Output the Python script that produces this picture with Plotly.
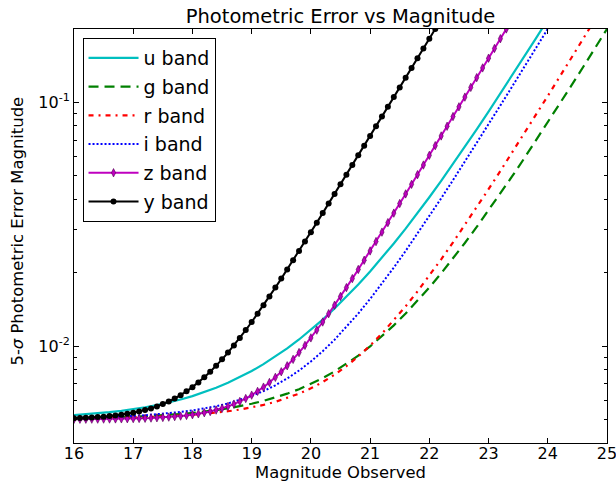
import plotly.graph_objects as go

# Magnitude grids (x data)
mag_fine = [round(16.0 + 0.1 * i, 1) for i in range(75)]    # 16.0 .. 23.4
mag_coarse = [round(16.0 + 0.2 * i, 1) for i in range(46)]  # 16.0 .. 25.0

band_names = ["u band", "g band", "r band", "i band", "z band", "y band"]

# 5-sigma photometric error
err_u = [0.005205, 0.005246, 0.005295, 0.005354, 0.005423, 0.005507, 0.005606, 0.005724,
         0.005865, 0.006032, 0.006229, 0.006462, 0.006738, 0.007063, 0.007446, 0.007896,
         0.008425, 0.009047, 0.009777, 0.010637, 0.011649, 0.012842, 0.014250, 0.015917,
         0.017893, 0.020239, 0.023033, 0.026363, 0.030340, 0.035095, 0.040789, 0.047612,
         0.055795, 0.065616, 0.077407, 0.091568, 0.108582, 0.129027, 0.153597, 0.183129,
         0.218628]

err_g = [0.005050, 0.005060, 0.005073, 0.005087, 0.005105, 0.005126, 0.005152, 0.005182,
         0.005219, 0.005263, 0.005317, 0.005380, 0.005457, 0.005549, 0.005660, 0.005794,
         0.005953, 0.006145, 0.006376, 0.006653, 0.006986, 0.007385, 0.007864, 0.008440,
         0.009131, 0.009961, 0.010957, 0.012154, 0.013591, 0.015317, 0.017392, 0.019884,
         0.022879, 0.026479, 0.030806, 0.036007, 0.042259, 0.049774, 0.058809, 0.069670,
         0.082727, 0.098425, 0.117298, 0.139988, 0.167267, 0.20006]

err_r = [0.005033, 0.005040, 0.005049, 0.005058, 0.005071, 0.005085, 0.005103, 0.005124,
         0.005150, 0.005182, 0.005221, 0.005269, 0.005327, 0.005399, 0.005487, 0.005597,
         0.005733, 0.005902, 0.006113, 0.006376, 0.006705, 0.007117, 0.007630, 0.008269,
         0.009062, 0.010044, 0.011253, 0.012736, 0.014549, 0.016759, 0.019442, 0.022694,
         0.026626, 0.031375, 0.037102, 0.044004, 0.052316, 0.062320, 0.074359, 0.088842,
         0.106260, 0.127209, 0.152400, 0.182690, 0.21911]

err_i = [0.005064, 0.005078, 0.005094, 0.005113, 0.005137, 0.005166, 0.005201, 0.005244,
         0.005296, 0.005361, 0.005441, 0.005539, 0.005661, 0.005812, 0.006001, 0.006237,
         0.006531, 0.006899, 0.007359, 0.007932, 0.008644, 0.009527, 0.010617, 0.011957,
         0.013598, 0.015600, 0.018036, 0.020990, 0.024567, 0.028889, 0.034105, 0.040393,
         0.047967, 0.057087, 0.068062, 0.081266, 0.097150, 0.116252, 0.139224, 0.166848,
         0.20006, 0.23999]

err_z = [0.005006, 0.005007, 0.005008, 0.005010, 0.005012, 0.005015, 0.005017, 0.005021,
         0.005025, 0.005030, 0.005036, 0.005044,
         0.005052, 0.005063, 0.005076, 0.005091, 0.005109, 0.005131, 0.005157, 0.005188,
         0.005225, 0.005269, 0.005322, 0.005385, 0.005460, 0.005548, 0.005652, 0.005776,
         0.005920, 0.006089, 0.006287, 0.006516, 0.006782, 0.007088, 0.007439, 0.007841,
         0.008298, 0.008817, 0.009402, 0.010061, 0.010800, 0.011626, 0.012548, 0.013573,
         0.014713, 0.015975, 0.017370, 0.018913, 0.020616, 0.022493, 0.024559, 0.026835,
         0.029338, 0.032089, 0.035114, 0.038436, 0.04209, 0.04609, 0.05049, 0.05531,
         0.06061, 0.06642, 0.07279, 0.07978, 0.08745, 0.09586, 0.10508, 0.11520,
         0.12629, 0.13846, 0.15180, 0.16643, 0.18247, 0.20006, 0.21935]

err_y = [0.005052, 0.005063, 0.005076, 0.005091, 0.005109, 0.005131, 0.005157, 0.005188,
         0.005225, 0.005269, 0.005322, 0.005385, 0.005460, 0.005548, 0.005652, 0.005776,
         0.005920, 0.006089, 0.006287, 0.006516, 0.006782, 0.007088, 0.007439, 0.007841,
         0.008298, 0.008817, 0.009402, 0.010061, 0.010800, 0.011626, 0.012548, 0.013573,
         0.014713, 0.015975, 0.017370, 0.018913, 0.020616, 0.022493, 0.024559, 0.026835,
         0.029338, 0.032089, 0.035114, 0.038436, 0.04209, 0.04609, 0.05049, 0.05531,
         0.06061, 0.06642, 0.07279, 0.07978, 0.08745, 0.09586, 0.10508, 0.11520,
         0.12629, 0.13846, 0.15180, 0.16643, 0.18247, 0.20006, 0.21935]

y_tick_vals = [0.01, 0.1]
y_tick_text = ["10<sup>-2</sup>", "10<sup>-1</sup>"]
y_minor_vals = [0.004, 0.005, 0.006, 0.007, 0.008, 0.009,
                0.02, 0.03, 0.04, 0.05, 0.06, 0.07, 0.08, 0.09, 0.2]
x_tick_vals = [16, 17, 18, 19, 20, 21, 22, 23, 24, 25]

FONT = "DejaVu Sans"

fig = go.Figure()

fig.add_trace(go.Scatter(x=mag_coarse[:len(err_u)], y=err_u, name=band_names[0], mode="lines",
                         line=dict(color="#00BFBF", width=2.2), legendgroup="u"))
fig.add_trace(go.Scatter(x=mag_coarse[:len(err_g)], y=err_g, name=band_names[1], mode="lines",
                         line=dict(color="#008000", width=2.2, dash="10px,6px"), legendgroup="g"))
fig.add_trace(go.Scatter(x=mag_coarse[:len(err_r)], y=err_r, name=band_names[2], mode="lines",
                         line=dict(color="#FF0000", width=2.2, dash="5px,5px,2px,5px"), legendgroup="r"))
fig.add_trace(go.Scatter(x=mag_coarse[:len(err_i)], y=err_i, name=band_names[3], mode="lines",
                         line=dict(color="#0000FF", width=2, dash="2px,2px"), legendgroup="i"))
fig.add_trace(go.Scatter(x=mag_fine[:len(err_z)], y=err_z, name=band_names[4], mode="lines+markers",
                         line=dict(color="#BF00BF", width=2),
                         marker=dict(symbol="diamond-tall", size=6, color="#BF00BF",
                                     line=dict(color="#500050", width=0.6)),
                         legendgroup="z"))
fig.add_trace(go.Scatter(x=mag_fine[:len(err_y)], y=err_y, name=band_names[5], mode="lines+markers",
                         line=dict(color="#000000", width=2),
                         marker=dict(symbol="circle", size=6, color="#000000"),
                         legendgroup="y"))

axis_common = dict(showline=True, linecolor="#000000", linewidth=1, mirror="allticks",
                   ticks="inside", tickcolor="#000000", showgrid=False, zeroline=False,
                   ticklabeloverflow="allow", automargin=False,
                   tickfont=dict(family=FONT, size=16, color="#000000"))

fig.update_layout(
    width=616, height=483,
    margin=dict(l=74, r=9, t=29, b=40, autoexpand=False),
    paper_bgcolor="white", plot_bgcolor="white",
    font=dict(family=FONT, color="#000000"),
    title=dict(text="Photometric Error vs Magnitude", x=340.5 / 616, xanchor="center",
               y=1 - 16 / 483, yanchor="middle", yref="container",
               font=dict(family=FONT, size=19.5, color="#000000")),
    xaxis=dict(range=[16, 25], tickmode="array", tickvals=x_tick_vals, ticklen=5,
               ticklabelstandoff=-4, **axis_common),
    yaxis=dict(type="log", range=[-2.39794, -0.69897], tickmode="array",
               tickvals=y_tick_vals, ticktext=y_tick_text, ticklen=5,
               minor=dict(tickmode="array", tickvals=y_minor_vals, ticks="inside",
                          ticklen=3, tickcolor="#000000", showgrid=False),
               **axis_common),
    legend=dict(x=0.016, y=0.978, xanchor="left", yanchor="top",
                bordercolor="#000000", borderwidth=1, bgcolor="white",
                font=dict(family=FONT, size=19, color="#000000"),
                traceorder="grouped", tracegroupgap=1, itemwidth=50),
    showlegend=True,
    annotations=[
        dict(text="Magnitude Observed", xref="paper", yref="paper", x=0.5, y=-0.072,
             xanchor="center", yanchor="middle", showarrow=False,
             font=dict(family=FONT, size=16.4, color="#000000")),
        dict(text="5-<i>σ</i> Photometric Error Magnitude", xref="paper", yref="paper",
             x=(17.5 - 74) / 533, y=0.512, xanchor="center", yanchor="middle",
             textangle=-90, showarrow=False,
             font=dict(family=FONT, size=16.4, color="#000000")),
    ],
)

fig.write_html("out.html", config={"displayModeBar": False},
               post_script="document.body.style.margin='0px';document.body.style.overflow='hidden';")
